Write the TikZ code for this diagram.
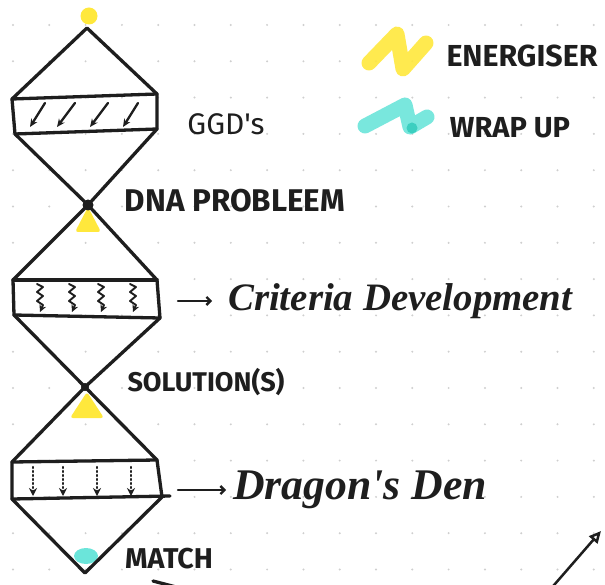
\documentclass[tikz,border=0pt]{standalone}
\usepackage{fontspec}
\usepackage{graphicx}
\usetikzlibrary{arrows.meta}
\newfontfamily\capsfont{Fira Sans}
\newfontfamily\handfont{Liberation Serif}
\definecolor{hiyellow}{HTML}{FFE83C}
\definecolor{hicyan}{HTML}{6BE5DA}
\definecolor{hicyandark}{HTML}{3CCFC0}
\definecolor{ink}{HTML}{1E1E1E}
\definecolor{griddot}{HTML}{CFCFCF}
\begin{document}
\begin{tikzpicture}[x=1pt,y=-1pt, line cap=round, line join=round,
  pen/.style={draw=ink, line width=3.3pt},
  thinpen/.style={draw=ink, line width=2.3pt},
  capslabel/.style={inner sep=0pt, text=ink, font=\capsfont\bfseries},
  ggdlabel/.style={inner sep=0pt, text=ink, font=\capsfont},
  handlabel/.style={inner sep=0pt, text=ink, font=\handfont\bfseries\itshape},
  scribble/.style={line width=15pt, opacity=0.9},
]
\useasboundingbox (0,0) rectangle (605,585);
\fill[white] (0,0) rectangle (605,585);
% dot grid
\foreach \i in {0,...,16} \foreach \j in {0,...,15}
  \fill[griddot] (13+36.3*\i, 25+36.3*\j) circle (1.1);
% highlights
\fill[hiyellow] (89,16) circle (8.5);
\fill[hiyellow, rounded corners=3pt] (88,207) -- (101,232) -- (75,232) -- cycle;
\fill[hiyellow, rounded corners=3pt] (87,392) -- (104,418) -- (70,418) -- cycle;
\fill[hicyan] (86,556) ellipse (12 and 8);
% legend scribbles
\draw[hiyellow, scribble] (369,63) -- (397,34) -- (403,69) -- (426,43);
\draw[hicyan, scribble] (365,126) -- (405,105) -- (410,127) -- (427,117);
\fill[hicyandark] (412,128) circle (5.5);
% diamond 1
\draw[pen] (87,28) -- (12,99) -- (15,134) -- (88,205) -- (157,129) -- (157,94) -- cycle;
\draw[pen] (12,99) -- (157,94);
\draw[pen] (15,134) -- (157,129);
% diamond 2
\draw[pen] (88,205) -- (13,280) -- (14,315) -- (85,387) -- (160,318) -- (157,280) -- cycle;
\draw[pen] (13,280) -- (157,280);
\draw[pen] (14,315) -- (160,318);
% diamond 3
\draw[pen] (85,387) -- (12,462) -- (12,499) -- (85,573) -- (162,497) -- (157,460) -- cycle;
\draw[pen] (12,462) -- (157,460);
\draw[pen] (12,499) -- (170,496);
% junction dots
\fill[ink] (88,205) circle (5.5);
\fill[ink] (85,387) circle (4);
% band 1 arrows
\foreach \a/\b in {45/30, 75/57, 108/90, 138/123}
  \draw[thinpen, -{Stealth[length=8pt,width=7pt]}] (\a,103) -- (\b,127);
% band 2 squiggly arrows
\foreach \x in {40,72,101,133}
  \draw[thinpen, line width=1.9pt, -{Stealth[length=7pt,width=7pt]}]
    (\x-3,284) -- (\x+3,287) -- (\x-3,292) -- (\x+3,296) -- (\x-3,301) -- (\x+3,305) -- (\x,312);
% band 3 dotted arrows
\foreach \x in {33,63,97,131}
  \draw[thinpen, dash pattern=on 1pt off 3pt, -{Stealth[length=8pt,width=8pt]}] (\x,467) -- (\x,496);
% labels
\node[ggdlabel] (ggd) at (226,124) {\resizebox{77pt}{!}{GGD's}};
\node[capslabel] (dna) at (235,201) {\resizebox{220pt}{!}{DNA PROBLEEM}};
\node[capslabel] (sol) at (206,382) {\resizebox{157pt}{!}{SOLUTION(S)}};
\node[capslabel] (match) at (169,559) {\resizebox{88pt}{!}{MATCH}};
\node[capslabel] (energ) at (522,56) {\resizebox{151pt}{!}{ENERGISER}};
\node[capslabel] (wrap) at (510,128) {\resizebox{120pt}{!}{WRAP UP}};
\node[handlabel, anchor=west] (crit) at (228,301) {\resizebox{344pt}{!}{Criteria Development}};
\node[handlabel, anchor=west] (dragon) at (233,490) {\resizebox{254pt}{!}{Dragon's Den}};
% pointer arrows
\coordinate (ca) at (178,301);
\coordinate (da) at (178,490);
\draw[thinpen, -{Straight Barb[length=4pt,width=8pt]}, shorten >=16pt] (ca) -- (crit.west);
\draw[thinpen, -{Straight Barb[length=4pt,width=8pt]}, shorten >=7pt] (da) -- (dragon.west);
% bottom edge strokes
\coordinate (br0) at (548,592);
\coordinate (br1) at (601,531);
\draw[pen, line width=2.5pt, -{Triangle[open, length=12pt, width=11pt]}] (br0) -- (br1);
\coordinate (bl0) at (153,581);
\coordinate (bl1) at (176,587);
\draw[pen] (bl0) -- (bl1);
\end{tikzpicture}
\end{document}
